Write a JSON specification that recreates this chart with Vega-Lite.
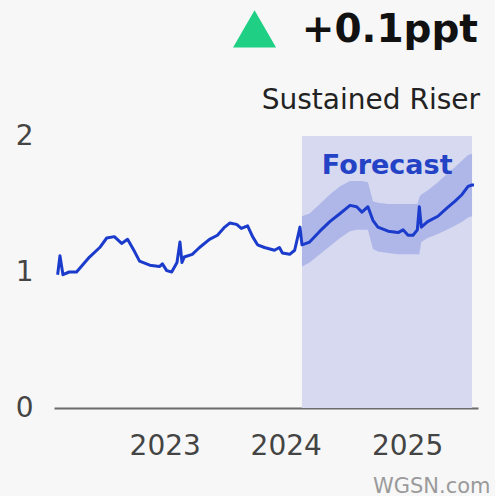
{
  "$schema": "https://vega.github.io/schema/vega-lite/v6.json",
  "width": 424,
  "height": 272,
  "autosize": {"type": "none"},
  "padding": {"left": 54, "top": 136, "right": 17, "bottom": 88},
  "background": "#f7f7f7",
  "config": {"view": {"stroke": null}, "font": "DejaVu Sans"},
  "datasets": {
    "series": [
      {"date": "2022-02-12", "value": 0.98},
      {"date": "2022-02-19", "value": 1.12},
      {"date": "2022-02-28", "value": 0.98},
      {"date": "2022-03-19", "value": 1.0},
      {"date": "2022-04-10", "value": 1.0},
      {"date": "2022-05-19", "value": 1.11},
      {"date": "2022-06-19", "value": 1.18},
      {"date": "2022-07-10", "value": 1.25},
      {"date": "2022-08-02", "value": 1.26},
      {"date": "2022-08-24", "value": 1.21},
      {"date": "2022-09-11", "value": 1.24},
      {"date": "2022-10-02", "value": 1.15},
      {"date": "2022-10-17", "value": 1.08},
      {"date": "2022-11-17", "value": 1.05},
      {"date": "2022-12-16", "value": 1.04},
      {"date": "2022-12-25", "value": 1.06},
      {"date": "2023-01-07", "value": 1.01},
      {"date": "2023-01-22", "value": 1.0},
      {"date": "2023-02-07", "value": 1.07},
      {"date": "2023-02-16", "value": 1.22},
      {"date": "2023-02-22", "value": 1.07},
      {"date": "2023-03-01", "value": 1.11},
      {"date": "2023-03-25", "value": 1.13},
      {"date": "2023-04-16", "value": 1.18},
      {"date": "2023-05-16", "value": 1.24},
      {"date": "2023-06-09", "value": 1.27},
      {"date": "2023-07-01", "value": 1.33},
      {"date": "2023-07-16", "value": 1.36},
      {"date": "2023-08-06", "value": 1.35},
      {"date": "2023-08-20", "value": 1.32},
      {"date": "2023-09-08", "value": 1.34},
      {"date": "2023-09-23", "value": 1.26},
      {"date": "2023-10-08", "value": 1.2},
      {"date": "2023-10-29", "value": 1.18},
      {"date": "2023-11-28", "value": 1.16},
      {"date": "2023-12-13", "value": 1.18},
      {"date": "2023-12-22", "value": 1.14},
      {"date": "2024-01-13", "value": 1.13},
      {"date": "2024-01-28", "value": 1.16},
      {"date": "2024-02-13", "value": 1.33},
      {"date": "2024-02-19", "value": 1.2, "lo": 1.04, "hi": 1.41},
      {"date": "2024-03-13", "value": 1.22, "lo": 1.07, "hi": 1.43},
      {"date": "2024-04-13", "value": 1.3, "lo": 1.13, "hi": 1.5},
      {"date": "2024-05-13", "value": 1.37, "lo": 1.19, "hi": 1.57},
      {"date": "2024-06-13", "value": 1.43, "lo": 1.25, "hi": 1.63},
      {"date": "2024-07-13", "value": 1.49, "lo": 1.3, "hi": 1.67},
      {"date": "2024-08-02", "value": 1.48, "lo": 1.31, "hi": 1.67},
      {"date": "2024-08-18", "value": 1.44, "lo": 1.31, "hi": 1.67},
      {"date": "2024-09-05", "value": 1.48, "lo": 1.31, "hi": 1.66},
      {"date": "2024-09-20", "value": 1.38, "lo": 1.17, "hi": 1.52},
      {"date": "2024-10-05", "value": 1.33, "lo": 1.15, "hi": 1.51},
      {"date": "2024-11-05", "value": 1.3, "lo": 1.14, "hi": 1.5},
      {"date": "2024-12-05", "value": 1.29, "lo": 1.13, "hi": 1.5},
      {"date": "2024-12-20", "value": 1.31, "lo": 1.13, "hi": 1.5},
      {"date": "2025-01-04", "value": 1.27, "lo": 1.13, "hi": 1.5},
      {"date": "2025-01-19", "value": 1.27, "lo": 1.13, "hi": 1.5},
      {"date": "2025-02-01", "value": 1.31, "lo": 1.13, "hi": 1.5},
      {"date": "2025-02-07", "value": 1.48, "lo": 1.13, "hi": 1.55},
      {"date": "2025-02-13", "value": 1.33, "lo": 1.22, "hi": 1.57},
      {"date": "2025-03-04", "value": 1.37, "lo": 1.25, "hi": 1.6},
      {"date": "2025-04-04", "value": 1.41, "lo": 1.28, "hi": 1.66},
      {"date": "2025-05-01", "value": 1.47, "lo": 1.31, "hi": 1.72},
      {"date": "2025-05-25", "value": 1.52, "lo": 1.34, "hi": 1.77},
      {"date": "2025-06-16", "value": 1.57, "lo": 1.37, "hi": 1.82},
      {"date": "2025-07-04", "value": 1.63, "lo": 1.4, "hi": 1.86},
      {"date": "2025-07-16", "value": 1.64, "lo": 1.41, "hi": 1.87},
      {"date": "2025-07-22", "value": 1.64}
    ]
  },
  "layer": [
    {
      "data": {"values": [{}]},
      "mark": {"type": "rect", "color": "#d6d9f0"},
      "encoding": {
        "x": {"datum": {"year": 2024, "month": 2, "date": 19}, "type": "temporal"},
        "x2": {"datum": {"year": 2025, "month": 7, "date": 16}},
        "y": {"datum": 0, "type": "quantitative"},
        "y2": {"datum": 2}
      }
    },
    {
      "data": {"name": "series"},
      "transform": [{"filter": "isValid(datum.lo)"}],
      "mark": {"type": "area", "color": "#afb7e8"},
      "encoding": {
        "x": {"field": "date", "type": "temporal"},
        "y": {"field": "lo", "type": "quantitative"},
        "y2": {"field": "hi"}
      }
    },
    {
      "data": {"name": "series"},
      "mark": {"type": "line", "color": "#1b3bcc", "strokeWidth": 3, "strokeJoin": "round"},
      "encoding": {
        "x": {
          "field": "date",
          "type": "temporal",
          "scale": {"domain": [{"year": 2022, "month": 2, "date": 1}, {"year": 2025, "month": 8, "date": 3}]},
          "axis": {
            "values": [{"year": 2023}, {"year": 2024}, {"year": 2025}],
            "format": "%Y",
            "title": "WGSN.com",
            "domainColor": "#6b6b6b",
            "domainWidth": 2,
            "ticks": false,
            "grid": false,
            "labelOverlap": false,
            "labelFont": "DejaVu Sans",
            "labelFontSize": 28,
            "labelColor": "#444444",
            "labelPadding": 24,
            "titleFont": "DejaVu Sans",
            "titleFontSize": 21,
            "titleFontWeight": "normal",
            "titleColor": "#9a9a9a",
            "titleAnchor": null,
            "titleAlign": "right",
            "titleBaseline": "alphabetic",
            "titleX": 436,
            "titleY": 84
          }
        },
        "y": {
          "field": "value",
          "type": "quantitative",
          "scale": {"domain": [0, 2]},
          "axis": {
            "values": [0, 1, 2],
            "format": ".0f",
            "title": null,
            "domain": false,
            "ticks": false,
            "grid": false,
            "labelOverlap": false,
            "labelFont": "DejaVu Sans",
            "labelFontSize": 28,
            "labelColor": "#444444",
            "labelPadding": 21
          }
        }
      }
    },
    {
      "data": {"values": [{}]},
      "mark": {"type": "text", "text": "Forecast", "font": "DejaVu Sans", "fontSize": 27, "fontWeight": "bold", "color": "#2442c5", "baseline": "middle", "align": "center"},
      "encoding": {
        "x": {"datum": {"year": 2024, "month": 11, "date": 2}, "type": "temporal"},
        "y": {"datum": 1.776, "type": "quantitative"}
      }
    },
    {
      "data": {"values": [{}]},
      "mark": {"type": "point", "shape": "triangle-up", "filled": true, "color": "#1ecf84", "opacity": 1, "size": 1850},
      "encoding": {
        "x": {"datum": {"year": 2023, "month": 9, "date": 29}, "type": "temporal"},
        "y": {"datum": 2.787, "type": "quantitative"}
      }
    },
    {
      "data": {"values": [{}]},
      "mark": {"type": "text", "text": "+0.1ppt", "font": "DejaVu Sans", "fontSize": 39, "fontWeight": "bold", "color": "#111111", "baseline": "alphabetic", "align": "right"},
      "encoding": {
        "x": {"datum": {"year": 2025, "month": 8, "date": 3}, "type": "temporal"},
        "y": {"datum": 2.691, "type": "quantitative"}
      }
    },
    {
      "data": {"values": [{}]},
      "mark": {"type": "text", "text": "Sustained Riser", "font": "DejaVu Sans", "fontSize": 28, "color": "#222222", "baseline": "alphabetic", "align": "right", "dx": 2},
      "encoding": {
        "x": {"datum": {"year": 2025, "month": 8, "date": 3}, "type": "temporal"},
        "y": {"datum": 2.199, "type": "quantitative"}
      }
    }
  ]
}
